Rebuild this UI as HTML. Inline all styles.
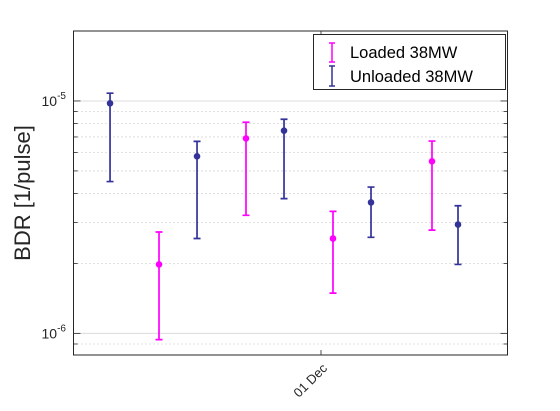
<!DOCTYPE html>
<html><head><meta charset="utf-8"><style>
html,body{margin:0;padding:0;background:#fff;}
svg{display:block;font-family:"Liberation Sans",sans-serif;}
</style></head><body>
<svg id="chart" width="560" height="411" viewBox="0 0 560 411">
<rect x="0" y="0" width="560" height="411" fill="#fff"/>
<g id="grid"></g>
<g id="marks"></g>
<rect x="73.5" y="31" width="434" height="324" fill="none" stroke="#262626" stroke-width="1"/>
<g id="axes"></g>
<text transform="translate(30,193) rotate(-90)" text-anchor="middle" font-size="22" fill="#262626">BDR [1/pulse]</text>
<g>
<rect x="313.5" y="34.5" width="192" height="55" fill="#fff" stroke="#262626" stroke-width="1"/>
<g>
<path d="M332,43 V62 M329,43 H335 M329,62 H335" stroke="#ff00ff" stroke-width="1.5" fill="none"/>
<text x="350" y="58" font-size="16.5" fill="#000">Loaded 38MW</text>
</g>
<g>
<path d="M332,66 V86 M329,66 H335 M329,86 H335" stroke="#333399" stroke-width="1.5" fill="none"/>
<text x="350" y="82" font-size="16.5" fill="#000">Unloaded 38MW</text>
</g>
</g>
</svg>
<script>
// x in days relative to 01 Dec
const unloadedX = [-2.425, -1.425, -0.425, 0.575, 1.575];
const unloadedY = [9.77e-6, 5.78e-6, 7.45e-6, 3.66e-6, 2.94e-6];
const unloadedHi = [1.08e-5, 6.7e-6, 8.34e-6, 4.26e-6, 3.54e-6];
const unloadedLo = [4.5e-6, 2.56e-6, 3.8e-6, 2.59e-6, 1.98e-6];
const loadedX = [-1.862, -0.862, 0.138, 1.276];
const loadedY = [1.98e-6, 6.9e-6, 2.56e-6, 5.5e-6];
const loadedHi = [2.73e-6, 8.1e-6, 3.35e-6, 6.72e-6];
const loadedLo = [9.4e-7, 3.22e-6, 1.49e-6, 2.78e-6];
const xTickVals = [0];
const xTickLabels = ["01 Dec"];
const yMajor = [1e-6, 1e-5];
const yMajorExp = ["-6", "-5"];
const yMinor = [9e-7, 2e-6, 3e-6, 4e-6, 5e-6, 6e-6, 7e-6, 8e-6, 9e-6];

const NS = "http://www.w3.org/2000/svg";
const L = 73.5, R = 507.5, T = 31, B = 355;
const xMin = -2.845, xMax = 2.144;
const yMin = 8.07e-7, yMax = 2e-5;
function xs(v){ return L + (v - xMin) / (xMax - xMin) * (R - L); }
function ys(v){ return B - (Math.log10(v) - Math.log10(yMin)) / (Math.log10(yMax) - Math.log10(yMin)) * (B - T); }
function mk(tag, attrs, parent){ const e = document.createElementNS(NS, tag); for (const k in attrs) e.setAttribute(k, attrs[k]); parent.appendChild(e); return e; }

const grid = document.getElementById('grid');
const axes = document.getElementById('axes');
const marks = document.getElementById('marks');

yMinor.forEach(v => {
  const y = ys(v);
  const l = mk('line', {x1: L, x2: R, y1: y, y2: y, stroke: '#b0b0b0', 'stroke-width': 0.8, 'stroke-dasharray': '1,3'}, grid);
  
  
  [[L, L+4],[R, R-4]].forEach(p => {
    const t = mk('line', {x1: p[0], x2: p[1], y1: y, y2: y, stroke: '#262626', 'stroke-width': 0.8}, axes);
    
    
  });
});
yMajor.forEach((v, i) => {
  const y = ys(v);
  const l = mk('line', {x1: L, x2: R, y1: y, y2: y, stroke: '#dcdcdc', 'stroke-width': 1}, grid);
  
  
  [[L, L+7],[R, R-7]].forEach(p => {
    const t = mk('line', {x1: p[0], x2: p[1], y1: y, y2: y, stroke: '#262626', 'stroke-width': 0.8}, axes);
    
    
  });
  const tx = mk('text', {x: 66, y: y + 5, 'text-anchor': 'end', 'font-size': 14, fill: '#262626'}, axes);
  
  
  tx.textContent = '10';
  const sp = mk('tspan', {dy: -7, 'font-size': 10}, tx);
  sp.textContent = yMajorExp[i];
});
xTickVals.forEach((v, i) => {
  const x = xs(v);
  [[B, B-5],[T, T+5]].forEach(p => {
    const t = mk('line', {x1: x, x2: x, y1: p[0], y2: p[1], stroke: '#262626', 'stroke-width': 0.8}, axes);
    
    
  });
  const tx = mk('text', {transform: `translate(${x+7},${B+14}) rotate(-45)`, 'text-anchor': 'end', 'font-size': 13, fill: '#262626'}, axes);
  
  
  tx.textContent = xTickLabels[i];
});

function series(xv, yv, hi, lo, color, name){
  const g = mk('g', {}, marks);
  
  
  xv.forEach((v, i) => {
    const x = xs(v), y = ys(yv[i]), yh = ys(hi[i]), yl = ys(lo[i]);
    const p = mk('path', {d: `M${x},${yh} V${yl} M${x-3.5},${yh} H${x+3.5} M${x-3.5},${yl} H${x+3.5}`, stroke: color, 'stroke-width': 1.7, fill: 'none'}, g);
    
    
    const c = mk('circle', {cx: x, cy: y, r: 3.3, fill: color}, g);
    
    
  });
}
series(loadedX, loadedY, loadedHi, loadedLo, '#ff00ff', 'loaded');
series(unloadedX, unloadedY, unloadedHi, unloadedLo, '#333399', 'unloaded');
</script>
</body></html>
